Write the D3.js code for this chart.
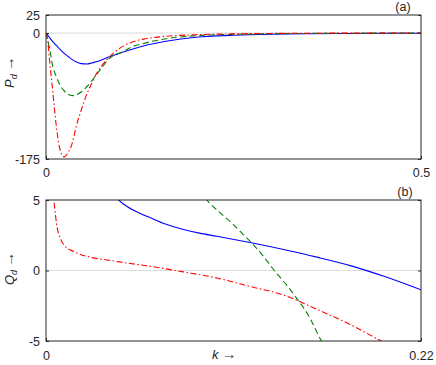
<!DOCTYPE html>
<html>
<head>
<meta charset="utf-8">
<script src="https://cdn.jsdelivr.net/npm/d3@7"></script>
<style>
  body { margin: 0; background: #fff; }
  svg text { font-family: "Liberation Sans", Arial, sans-serif; fill: #262626; }
</style>
</head>
<body>
<svg id="chart" width="436" height="365"></svg>
<script>
// ---- panel (a): P_d vs k ----
const kTop = [0, 0.002, 0.0045, 0.009, 0.0135, 0.018, 0.024, 0.03, 0.035, 0.04, 0.047, 0.054, 0.06, 0.067,
  0.074, 0.081, 0.09, 0.1, 0.115, 0.13, 0.16, 0.2, 0.25, 0.3, 0.35, 0.4, 0.45, 0.5];
const pBlue = [0, -2.5, -6, -12, -17, -22, -28, -33, -37, -40, -42.5, -43, -42, -40,
  -37.5, -34.5, -31, -27.5, -22.5, -18, -11.5, -5.8, -3.2, -1.8, -1.1, -0.7, -0.4, -0.3];
const pGreen = [0, -9, -20, -46, -60, -71, -80, -85.5, -87, -86, -82, -75, -68, -58,
  -49, -39, -31, -27, -19, -14.5, -8, -3.7, -1.9, -1, -0.6, -0.3, -0.2, -0.1];
const pRed = [0, -7, -35, -81, -127, -159, -172, -165, -153, -131, -107, -86, -72, -57,
  -46, -37, -28, -20, -12.5, -8.5, -4.6, -2.4, -1.2, -0.6, -0.3, -0.2, -0.1, 0];
const topYTicks = [25, 0, -175];
const topXTicks = [0, 0.5];

// ---- panel (b): Q_d vs k ----
const kBlueB = [0.038, 0.0426, 0.048, 0.0553, 0.0612, 0.07, 0.0806, 0.09, 0.1002, 0.1197, 0.14, 0.1596, 0.179, 0.1987, 0.22];
const qBlue = [5.6, 5.0, 4.5, 4.05, 3.74, 3.3, 2.91, 2.65, 2.43, 1.98, 1.47, 0.93, 0.33, -0.43, -1.37];
const kGreenB = [0.09, 0.0943, 0.1021, 0.1099, 0.1157, 0.1206, 0.1275, 0.1343, 0.141, 0.147, 0.1538, 0.1616, 0.165];
const qGreen = [5.65, 5.0, 4.1, 3.26, 2.55, 1.96, 1.01, -0.06, -1.0, -1.96, -3.15, -5.0, -5.7];
const kRedB = [0.004, 0.0046, 0.0066, 0.0085, 0.0105, 0.0164, 0.026, 0.0358, 0.0456, 0.059, 0.0806, 0.1002,
  0.1197, 0.14, 0.1596, 0.179, 0.1967, 0.2];
const qRed = [5.7, 5.0, 3.0, 2.25, 1.82, 1.34, 0.94, 0.75, 0.56, 0.34, -0.1, -0.53,
  -1.13, -1.77, -2.79, -3.86, -5.0, -5.2];
const botYTicks = [5, 0, -5];
const botXTicks = [0, 0.22];

const svg = d3.select('#chart');
const LEFT = 46, RIGHT = 421;

function zip(ks, vs) { return ks.map((k, i) => ({ k: k, v: vs[i] })); }

function drawPanel(cfg) {
  const x = d3.scaleLinear().domain(cfg.xDomain).range([LEFT, RIGHT]);
  const y = d3.scaleLinear().domain(cfg.yDomain).range([cfg.bottom, cfg.top]);
  const g = svg.append('g');

  // clip
  g.append('clipPath').attr('id', cfg.id + '-clip')
    .append('rect')
    .attr('x', LEFT).attr('y', cfg.top)
    .attr('width', RIGHT - LEFT).attr('height', cfg.bottom - cfg.top);

  // zero line
  g.append('line')
    .attr('x1', LEFT).attr('x2', RIGHT)
    .attr('y1', y(0)).attr('y2', y(0))
    .attr('stroke', '#dcdcdc').attr('stroke-width', 1);

  const line = d3.line()
    .x(d => x(d.k)).y(d => y(d.v))
    .curve(d3.curveMonotoneX);

  const lines = g.append('g').attr('clip-path', 'url(#' + cfg.id + '-clip)');
  cfg.series.forEach(s => {
    lines.append('path')
      .datum(zip(s.k, s.v))
      .attr('d', line)
      .attr('fill', 'none')
      .attr('stroke', s.color)
      .attr('stroke-width', 1.1)
      .attr('stroke-dasharray', s.dash);
  });

  // axes
  const fmt = d => String(d);
  const yAxis = d3.axisLeft(y).tickValues(cfg.yTicks).tickSizeInner(-3).tickSizeOuter(0).tickPadding(6).tickFormat(fmt);
  const yAxisR = d3.axisRight(y).tickValues(cfg.yTicks).tickSizeInner(-3).tickSizeOuter(0).tickFormat('');
  const xAxis = d3.axisBottom(x).tickValues(cfg.xTicks).tickSizeInner(-3).tickSizeOuter(0).tickPadding(cfg.xPad).tickFormat(fmt);

  [g.append('g').attr('transform', `translate(${LEFT},0)`).call(yAxis),
   g.append('g').attr('transform', `translate(${RIGHT},0)`).call(yAxisR),
   g.append('g').attr('transform', `translate(0,${cfg.bottom})`).call(xAxis)]
    .forEach(a => {
      a.select('.domain').remove();
      a.selectAll('line').attr('stroke', '#262626');
      a.selectAll('text').attr('font-size', 12.5).attr('fill', '#262626')
        .style('font-family', '"Liberation Sans", Arial, sans-serif');
    });

  // box
  g.append('rect')
    .attr('x', LEFT).attr('y', cfg.top)
    .attr('width', RIGHT - LEFT).attr('height', cfg.bottom - cfg.top)
    .attr('fill', 'none').attr('stroke', '#262626').attr('stroke-width', 1);

  // panel tag
  g.append('text')
    .attr('x', cfg.tagX).attr('y', cfg.top - 4)
    .attr('text-anchor', 'middle').attr('font-size', 12.5)
    .text(cfg.tag);

  // y label
  const yl = g.append('text')
    .attr('transform', `translate(${cfg.ylabX},${cfg.ylabY}) rotate(-90)`)
    .attr('font-size', 13);
  yl.append('tspan').attr('font-style', 'italic').text(cfg.ylab);
  yl.append('tspan').attr('font-style', 'italic').attr('font-size', 9).attr('dy', 3).text('d');
  yl.append('tspan').attr('dy', -3).attr('dx', 3).attr('font-size', 15).attr('fill', '#444').text('\u2192');

  return { x, y, g };
}

drawPanel({
  id: 'pa', top: 15, bottom: 159, xDomain: [0, 0.5], yDomain: [-175, 25],
  yTicks: topYTicks, xTicks: topXTicks, xPad: 9, tag: '(a)', tagX: 403,
  ylab: 'P', ylabX: 14, ylabY: 88,
  series: [
    { k: kTop, v: pBlue, color: '#0000ff', dash: null },
    { k: kTop, v: pGreen, color: '#008000', dash: '6,3.5' },
    { k: kTop, v: pRed, color: '#ff0000', dash: '6,2.5,1.5,2.5' }
  ]
});

drawPanel({
  id: 'pb', top: 200, bottom: 341, xDomain: [0, 0.22], yDomain: [-5, 5],
  yTicks: botYTicks, xTicks: botXTicks, xPad: 10, tag: '(b)', tagX: 405,
  ylab: 'Q', ylabX: 14, ylabY: 285,
  series: [
    { k: kBlueB, v: qBlue, color: '#0000ff', dash: null },
    { k: kGreenB, v: qGreen, color: '#008000', dash: '6,3.5' },
    { k: kRedB, v: qRed, color: '#ff0000', dash: '6,2.5,1.5,2.5' }
  ]
});

// x label
const xl = svg.append('text').attr('x', 212).attr('y', 358.5).attr('font-size', 13);
xl.append('tspan').attr('font-style', 'italic').text('k');
xl.append('tspan').attr('dx', 3).attr('font-size', 15).attr('fill', '#444').text('\u2192');
</script>
</body>
</html>
